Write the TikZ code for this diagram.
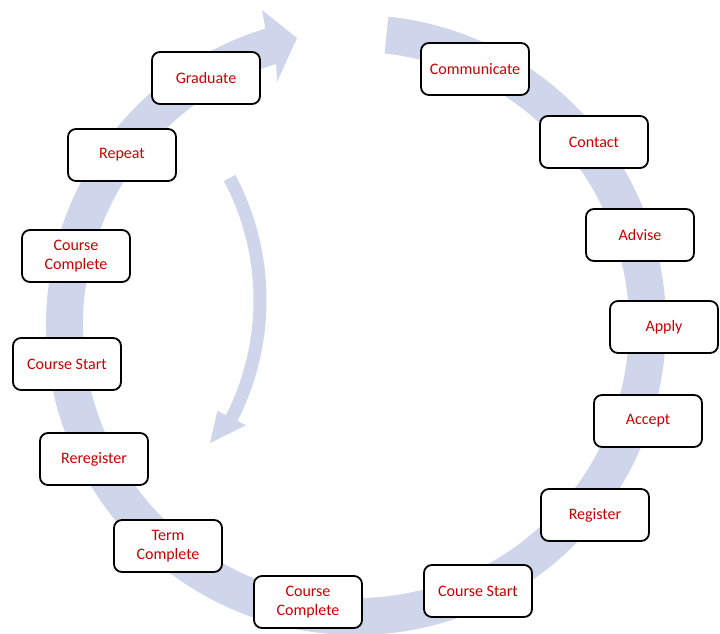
\documentclass[tikz,border=0pt]{standalone}
\usepackage{fontspec}
\setmainfont{Carlito}
\definecolor{bandcol}{RGB}{207,213,234}
\definecolor{txtred}{RGB}{204,0,0}
\begin{document}
\begin{tikzpicture}[x=1pt,y=-1pt,
  stage/.style={draw=black, line width=1.8pt, rounded corners=8pt, fill=white,
    minimum width=108pt, minimum height=52pt, inner sep=0pt, align=center,
    text=txtred, font=\fontsize{16}{19}\selectfont},
  band/.style={fill=bandcol, draw=none}]
\useasboundingbox (0,0) rectangle (720,633);
% big circular arrow
\coordinate (hA) at (262,10);
\coordinate (hT) at (297,38);
\coordinate (hB) at (277,82);
\fill[band] ([shift={(356,325)}]-84:310) arc[start angle=-84, end angle=253, radius=310]
  -- (hA) -- (hT) -- (hB)
  -- ([shift={(356,325)}]253:273) arc[start angle=253, end angle=-84, radius=273] -- cycle;
% inner curved arrow
\coordinate (iA) at (217.4,410.8);
\coordinate (iT) at (210,443);
\coordinate (iB) at (245.9,425.3);
\fill[band] ([shift={(0,300)}]-28:266.5) arc[start angle=-28, end angle=27, radius=266.5]
  -- (iB) -- (iT) -- (iA)
  -- ([shift={(0,300)}]27:253.5) arc[start angle=27, end angle=-28, radius=253.5] -- cycle;
% stages
\node[stage] (grad) at (206,78) {Graduate};
\node[stage] (rep) at (122,155) {Repeat};
\node[stage] (cc1) at (76,256) {Course\\Complete};
\node[stage] (cs1) at (67,364) {Course Start};
\node[stage] (rereg) at (94,459) {Reregister};
\node[stage] (term) at (168,546) {Term\\Complete};
\node[stage] (cc2) at (308,602) {Course\\Complete};
\node[stage] (cs2) at (478,591) {Course Start};
\node[stage] (reg) at (595,515) {Register};
\node[stage] (acc) at (648,421) {Accept};
\node[stage] (app) at (664,327) {Apply};
\node[stage] (adv) at (640,235) {Advise};
\node[stage] (con) at (594,142) {Contact};
\node[stage] (com) at (475,69) {Communicate};
\end{tikzpicture}
\end{document}
